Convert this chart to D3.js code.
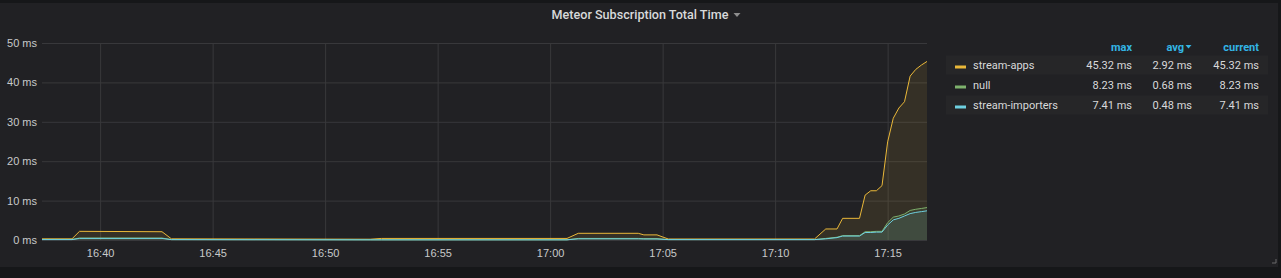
<!DOCTYPE html>
<html>
<head>
<meta charset="utf-8">
<script src="https://cdn.jsdelivr.net/npm/d3@7"></script>
<style>
  html, body { margin: 0; padding: 0; background: #161719; }
  svg { display: block; font-family: Roboto, "Noto Sans", sans-serif; }
</style>
</head>
<body>
<div id="chart"></div>
<script>
// time points (shared by every series)
var times = ["16:37:25", "16:38:45", "16:39:05", "16:42:45", "16:43:10", "16:52:00",
    "16:52:30", "17:00:45", "17:01:15", "17:03:55", "17:04:10", "17:04:45", "17:05:15",
    "17:11:45", "17:12:15", "17:12:45", "17:13:00", "17:13:45", "17:14:00", "17:14:15",
    "17:14:30", "17:14:45", "17:15:00", "17:15:15", "17:15:30", "17:15:45", "17:16:00",
    "17:16:15", "17:16:30", "17:16:45"];

// values in ms
var streamApps = [0.3, 0.3, 2.2, 2.1, 0.3, 0.2,
    0.4, 0.4, 1.7, 1.7, 1.3, 1.3, 0.25,
    0.25, 2.8, 2.8, 5.5, 5.5, 11.4, 12.5,
    12.5, 13.8, 24.9, 30.9, 33.5, 35.1, 41.6,
    43.3, 44.4, 45.32];
var nullSeries = [0.15, 0.15, 0.5, 0.5, 0.1, 0.05,
    0.05, 0.05, 0.4, 0.4, 0.35, 0.35, 0.1,
    0.1, 0.4, 0.7, 1.1, 1.1, 2.1, 2.1,
    2.2, 2.2, 4.4, 5.8, 6.1, 6.6, 7.5,
    7.8, 8.0, 8.23];
var streamImporters = [0.1, 0.1, 0.4, 0.4, 0.1, 0.05,
    0.05, 0.05, 0.3, 0.3, 0.25, 0.25, 0.1,
    0.1, 0.3, 0.6, 1.0, 1.0, 1.9, 1.9,
    2.0, 2.0, 3.8, 5.1, 5.5, 6.1, 6.7,
    7.0, 7.2, 7.41];

var seriesNames = ["stream-apps", "null", "stream-importers"];
var seriesColors = ["#eab839", "#7eb26d", "#6ed0e0"];
var legendMax = ["45.32 ms", "8.23 ms", "7.41 ms"];
var legendAvg = ["2.92 ms", "0.68 ms", "0.48 ms"];
var legendCurrent = ["45.32 ms", "8.23 ms", "7.41 ms"];

var yTicks = [0, 10, 20, 30, 40, 50];
var xTicks = ["16:40", "16:45", "16:50", "16:55", "17:00", "17:05", "17:10", "17:15"];

var parseTime = d3.timeParse("%H:%M:%S");
var parseTick = d3.timeParse("%H:%M");
var allSeries = [streamApps, nullSeries, streamImporters];

var width = 1281, height = 278;
var svg = d3.select("#chart").append("svg")
    .attr("width", width)
    .attr("height", height);

// panel
svg.append("rect")
    .attr("x", 0).attr("y", 3)
    .attr("width", 1278).attr("height", 264)
    .attr("fill", "#212124");

// title
var title = svg.append("text")
    .attr("x", 640).attr("y", 19)
    .attr("text-anchor", "middle")
    .attr("fill", "#d8d9da")
    .style("font-size", "12.6px")
    .style("font-weight", 500)
    .text("Meteor Subscription Total Time");
var tw = title.node().getComputedTextLength();
svg.append("path")
    .attr("d", "M" + (640 + tw / 2 + 5) + ",13 l7,0 l-3.5,4 z")
    .attr("fill", "#8e8e8e");

// scales
var plotLeft = 42, plotRight = 927, plotTop = 43, plotBottom = 240;
var x = d3.scaleTime()
    .domain([parseTime(times[0]), parseTime(times[times.length - 1])])
    .range([plotLeft, plotRight]);
var y = d3.scaleLinear()
    .domain([0, 50])
    .range([plotBottom, plotTop]);

// y axis + horizontal grid
var yAxis = svg.append("g")
    .attr("transform", "translate(" + plotLeft + ",0)")
    .call(d3.axisLeft(y)
        .tickValues(yTicks)
        .tickSize(-(plotRight - plotLeft))
        .tickPadding(5)
        .tickFormat(function(d) { return d + " ms"; }));
yAxis.select(".domain").remove();
yAxis.selectAll("line").attr("stroke", "#38383b");
yAxis.selectAll("text")
    .attr("fill", "#c8c9ca")
    .style("font-size", "11px");

// x axis + vertical grid
var xAxis = svg.append("g")
    .attr("transform", "translate(0," + plotBottom + ")")
    .call(d3.axisBottom(x)
        .tickValues(xTicks.map(parseTick))
        .tickSize(-(plotBottom - plotTop))
        .tickPadding(9)
        .tickFormat(d3.timeFormat("%H:%M")));
xAxis.select(".domain").remove();
xAxis.selectAll("line").attr("stroke", "#38383b");
xAxis.selectAll("text")
    .attr("fill", "#c8c9ca")
    .style("font-size", "11px");

// series
var area = d3.area()
    .x(function(d) { return x(d.t); })
    .y0(y(0))
    .y1(function(d) { return y(d.v); });
var line = d3.line()
    .x(function(d) { return x(d.t); })
    .y(function(d) { return y(d.v); });

allSeries.forEach(function(vals, i) {
    var pts = vals.map(function(v, j) { return { t: parseTime(times[j]), v: v }; });
    svg.append("path")
        .datum(pts)
        .attr("d", area)
        .attr("fill", seriesColors[i])
        .attr("fill-opacity", 0.1);
    svg.append("path")
        .datum(pts)
        .attr("d", line)
        .attr("fill", "none")
        .attr("stroke", seriesColors[i])
        .attr("stroke-width", 1);
});

// legend table
var colMax = 1132, colAvg = 1192, colCur = 1259;
var header = svg.append("g")
    .style("font-size", "11px")
    .style("font-weight", 700)
    .attr("fill", "#33b5e5");
header.append("text").attr("x", colMax).attr("y", 51).attr("text-anchor", "end").text("max");
header.append("text").attr("x", colAvg - 8).attr("y", 51).attr("text-anchor", "end").text("avg");
header.append("path")
    .attr("d", "M" + (colAvg - 6.5) + ",45 l6,0 l-3,3.5 z");
header.append("text").attr("x", colCur).attr("y", 51).attr("text-anchor", "end").text("current");

var rowH = 20;
var rows = svg.selectAll("g.row")
    .data(seriesNames)
    .enter()
    .append("g")
    .attr("class", "row")
    .attr("transform", function(d, i) { return "translate(0," + (65 + i * rowH) + ")"; });

rows.filter(function(d, i) { return i % 2 === 0; })
    .append("rect")
    .attr("x", 946).attr("y", -9.5)
    .attr("width", 322).attr("height", 19)
    .attr("fill", "#262628");

rows.append("rect")
    .attr("x", 955).attr("y", 0.5)
    .attr("width", 11).attr("height", 3)
    .attr("fill", function(d, i) { return seriesColors[i]; });

rows.append("text")
    .attr("x", 973).attr("y", 4)
    .attr("fill", "#d8d9da")
    .style("font-size", "11px")
    .text(function(d) { return d; });

[[colMax, legendMax], [colAvg, legendAvg], [colCur, legendCurrent]].forEach(function(c) {
    rows.append("text")
        .attr("x", c[0]).attr("y", 4)
        .attr("text-anchor", "end")
        .attr("fill", "#d8d9da")
        .style("font-size", "11px")
        .text(function(d, i) { return c[1][i]; });
});

// resize handle
svg.append("path")
    .attr("d", "M1276,259 L1276,263 L1272,263")
    .attr("fill", "none")
    .attr("stroke", "#6b6b6b")
    .attr("stroke-width", 1);
</script>
</body>
</html>
